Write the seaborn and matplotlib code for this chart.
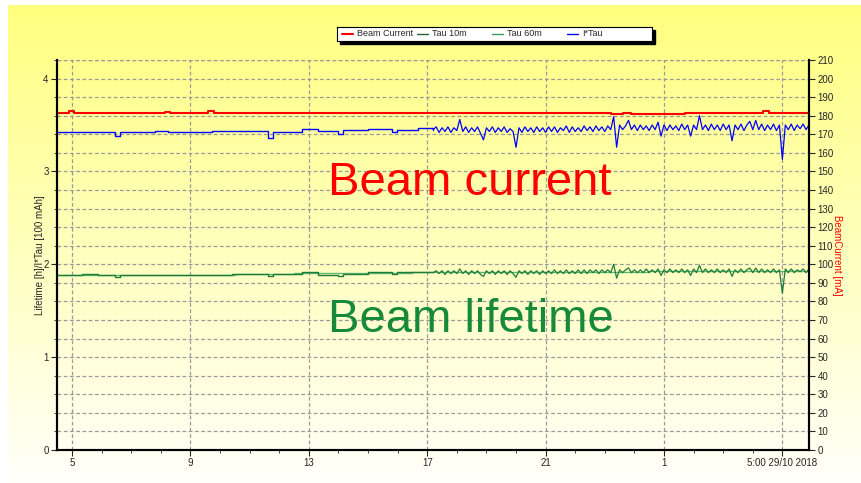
import numpy as np
import matplotlib
matplotlib.use("Agg")
import matplotlib.pyplot as plt
from matplotlib.patches import Rectangle
from matplotlib.ticker import MultipleLocator
import seaborn as sns

# --- data (x = day of month, "1" label sits on day 25) ---
step_days = [4.49, 5.33, 5.89, 6.45, 6.62, 7.13, 7.80, 8.25, 8.93, 9.72, 10.39,
             11.63, 11.80, 12.76, 13.32, 14.00, 14.17, 15.01, 15.80, 15.97, 16.70, 17.2]
itau_step = [3.42, 3.43, 3.42, 3.38, 3.42, 3.43, 3.44, 3.43, 3.42, 3.44, 3.44,
             3.36, 3.43, 3.46, 3.44, 3.40, 3.45, 3.46, 3.42, 3.45, 3.47, 3.45]
tau10_step = [1.887, 1.894, 1.887, 1.858, 1.887, 1.890, 1.890, 1.887, 1.890, 1.890, 1.898,
              1.869, 1.894, 1.912, 1.890, 1.873, 1.900, 1.916, 1.894, 1.912, 1.912, 1.915]

itau_noisy = [3.45, 3.48, 3.42, 3.47, 3.43, 3.48, 3.42, 3.47, 3.44, 3.56,
              3.43, 3.48, 3.42, 3.47, 3.43, 3.48, 3.41, 3.34, 3.47, 3.43,
              3.48, 3.42, 3.47, 3.43, 3.48, 3.42, 3.46, 3.43, 3.26, 3.47,
              3.42, 3.48, 3.43, 3.47, 3.42, 3.48, 3.43, 3.47, 3.42, 3.48,
              3.43, 3.48, 3.42, 3.47, 3.44, 3.49, 3.42, 3.48, 3.43, 3.47,
              3.43, 3.49, 3.44, 3.48, 3.43, 3.49, 3.44, 3.48, 3.43, 3.49,
              3.45, 3.59, 3.26, 3.50, 3.45, 3.49, 3.55, 3.45, 3.50, 3.44,
              3.50, 3.45, 3.49, 3.44, 3.50, 3.45, 3.53, 3.38, 3.50, 3.44,
              3.50, 3.45, 3.49, 3.44, 3.51, 3.45, 3.50, 3.38, 3.50, 3.45,
              3.60, 3.45, 3.50, 3.44, 3.51, 3.45, 3.50, 3.44, 3.51, 3.45,
              3.50, 3.33, 3.50, 3.45, 3.51, 3.44, 3.50, 3.54, 3.45, 3.55,
              3.45, 3.51, 3.44, 3.50, 3.45, 3.51, 3.44, 3.50, 3.13, 3.50,
              3.45, 3.51, 3.44, 3.50, 3.46, 3.51, 3.45, 3.50]
tau10_noisy = [1.91, 1.93, 1.90, 1.93, 1.89, 1.93, 1.90, 1.93, 1.90, 1.95,
               1.90, 1.93, 1.89, 1.93, 1.90, 1.93, 1.89, 1.87, 1.93, 1.90,
               1.93, 1.89, 1.93, 1.90, 1.93, 1.89, 1.93, 1.90, 1.86, 1.93,
               1.90, 1.93, 1.89, 1.93, 1.90, 1.93, 1.89, 1.93, 1.90, 1.93,
               1.90, 1.94, 1.90, 1.93, 1.90, 1.94, 1.90, 1.93, 1.90, 1.94,
               1.90, 1.94, 1.90, 1.94, 1.91, 1.94, 1.90, 1.94, 1.91, 1.94,
               1.91, 2.00, 1.85, 1.94, 1.91, 1.94, 1.96, 1.91, 1.94, 1.91,
               1.94, 1.91, 1.95, 1.91, 1.94, 1.91, 1.95, 1.88, 1.94, 1.91,
               1.95, 1.91, 1.94, 1.91, 1.95, 1.91, 1.94, 1.88, 1.95, 1.91,
               1.99, 1.91, 1.95, 1.91, 1.94, 1.91, 1.95, 1.91, 1.94, 1.91,
               1.95, 1.87, 1.94, 1.91, 1.95, 1.91, 1.94, 1.96, 1.91, 1.96,
               1.91, 1.95, 1.91, 1.94, 1.91, 1.95, 1.91, 1.94, 1.69, 1.95,
               1.91, 1.95, 1.91, 1.94, 1.92, 1.95, 1.91, 1.95]
noisy_days = np.linspace(17.2, 29.9, len(itau_noisy))

tau60_days = [4.49, 6.5, 8.5, 10.5, 12.5, 14.5, 16.5, 18.5, 20.5, 22.5, 24.5, 26.5, 28.5, 29.9]
tau60_vals = [1.888, 1.886, 1.889, 1.891, 1.905, 1.902, 1.912, 1.914, 1.915, 1.918, 1.924,
              1.927, 1.926, 1.926]

beam_days = [4.45, 4.88, 5.05, 8.15, 8.3, 9.6, 9.8, 11.25, 11.4, 13.3, 13.45, 23.2, 23.6,
             23.9, 24.3, 24.6, 25.0, 25.3, 25.7, 28.35, 28.55, 29.9]
beam_ma = [181.2, 182.6, 181.2, 181.8, 181.2, 182.6, 181.2, 181.6, 181.2, 181.6, 181.2,
           180.8, 181.2, 180.7, 181.1, 180.8, 181.1, 180.7, 181.2, 182.8, 181.2, 181.2]

xtick_days = [5, 9, 13, 17, 21, 25, 29]
xtick_labels = ['5', '9', '13', '17', '21', '1', '5:00 29/10 2018']

legend_labels = ['Beam Current', 'Tau 10m', 'Tau 60m', 'I*Tau']

RED = '#ff0000'
BLUE = '#0000ff'
TAU10 = '#1e7b3a'
TAU60 = '#5cb870'
GREEN_TXT = '#168a3a'
legend_colors = [RED, '#2b5e2b', '#3a9a5a', BLUE]

sns.set_style('white')
plt.rcParams['font.family'] = ['Liberation Sans', 'DejaVu Sans']

W, H = 861, 483
fig = plt.figure(figsize=(W / 100, H / 100), dpi=100)
fig.patch.set_facecolor('white')

# yellow-to-white background
bg = fig.add_axes([8 / W, 0, 1 - 8 / W, 1 - 5 / H])
grad = np.linspace(0, 1, 256).reshape(-1, 1)
top = np.array([1.0, 1.0, 0.50])
bot = np.array([1.0, 1.0, 0.98])
img = top + (bot - top) * grad[:, :, None]
bg.imshow(img, aspect='auto', extent=[0, 1, 0, 1])
bg.set_axis_off()

ax = fig.add_axes([57 / W, 33 / H, 752 / W, 390 / H])
ax.patch.set_alpha(0)
ax2 = ax.twinx()

sns.lineplot(x=tau60_days, y=tau60_vals, ax=ax, color=TAU60, lw=1,
             drawstyle='steps-post', estimator=None, sort=False)
sns.lineplot(x=step_days, y=tau10_step, ax=ax, color=TAU10, lw=1,
             drawstyle='steps-post', estimator=None, sort=False)
sns.lineplot(x=noisy_days, y=tau10_noisy, ax=ax, color=TAU10, lw=0.9,
             estimator=None, sort=False)
sns.lineplot(x=step_days, y=itau_step, ax=ax, color=BLUE, lw=1,
             drawstyle='steps-post', estimator=None, sort=False)
sns.lineplot(x=noisy_days, y=itau_noisy, ax=ax, color=BLUE, lw=0.9,
             estimator=None, sort=False)
sns.lineplot(x=beam_days, y=beam_ma, ax=ax2, color=RED, lw=1.5,
             drawstyle='steps-post', estimator=None, sort=False)

ax.set_xlim(4.49, 29.9)
ax.set_ylim(0, 4.2)
ax2.set_ylim(0, 210)

ax.set_xticks(xtick_days)
ax.set_xticklabels(xtick_labels)
ax.xaxis.set_minor_locator(MultipleLocator(1))
ax.yaxis.set_major_locator(MultipleLocator(1))
ax.yaxis.set_minor_locator(MultipleLocator(0.2))
ax2.yaxis.set_major_locator(MultipleLocator(10))

grid_kw = dict(color='#9a9a9a', ls=(0, (3, 2)), lw=0.9)
ax.grid(True, which='major', axis='x', **grid_kw)
ax.grid(True, which='both', axis='y', **grid_kw)
ax.axhline(4.2, **grid_kw)

ax.tick_params(axis='both', which='major', labelsize=7, length=4, width=0.8,
               direction='out', pad=2, left=True, bottom=True)
ax.tick_params(axis='both', which='minor', length=2, width=0.6, direction='out',
               left=True, bottom=True)
ax2.tick_params(axis='y', labelsize=7, length=4, width=0.8, direction='out', pad=2, right=True)

for a in (ax, ax2):
    a.spines['top'].set_visible(False)
    for side in ('left', 'right', 'bottom'):
        a.spines[side].set_color('black')
        a.spines[side].set_linewidth(1.5)

ax.set_xlabel('')
ax.set_ylabel('Lifetime [h]/I*Tau [100 mAh]', fontsize=7, labelpad=-1)
ax2.set_ylabel('BeamCurrent [mA]', fontsize=7, color=RED, rotation=270, labelpad=6)

ax.text(18.45, 2.75, 'Beam current', color=RED, fontsize=34, ha='center', va='baseline')
ax.text(18.48, 1.272, 'Beam lifetime', color=GREEN_TXT, fontsize=34, ha='center', va='baseline')

# legend box with black drop shadow, fixed-width columns
fig.patches.append(Rectangle((340 / W, 1 - 44 / H), 315 / W, 14 / H,
                             transform=fig.transFigure, color='black', zorder=5))
lax = fig.add_axes([337 / W, 1 - 41 / H, 315 / W, 14 / H], zorder=6)
lax.set_xlim(0, 315)
lax.set_ylim(0, 14)
lax.set_xticks([])
lax.set_yticks([])
lax.set_facecolor('white')
for s in lax.spines.values():
    s.set_color('black')
    s.set_linewidth(0.8)
for i, (lab, col) in enumerate(zip(legend_labels, legend_colors)):
    x0 = 5 + 75 * i
    lax.plot([x0, x0 + 11], [7, 7], color=col, lw=1.5 if i == 0 else 1)
    lax.text(x0 + 15, 7, lab, fontsize=6.5, va='center', ha='left')

fig.savefig('out.png', dpi=100)
